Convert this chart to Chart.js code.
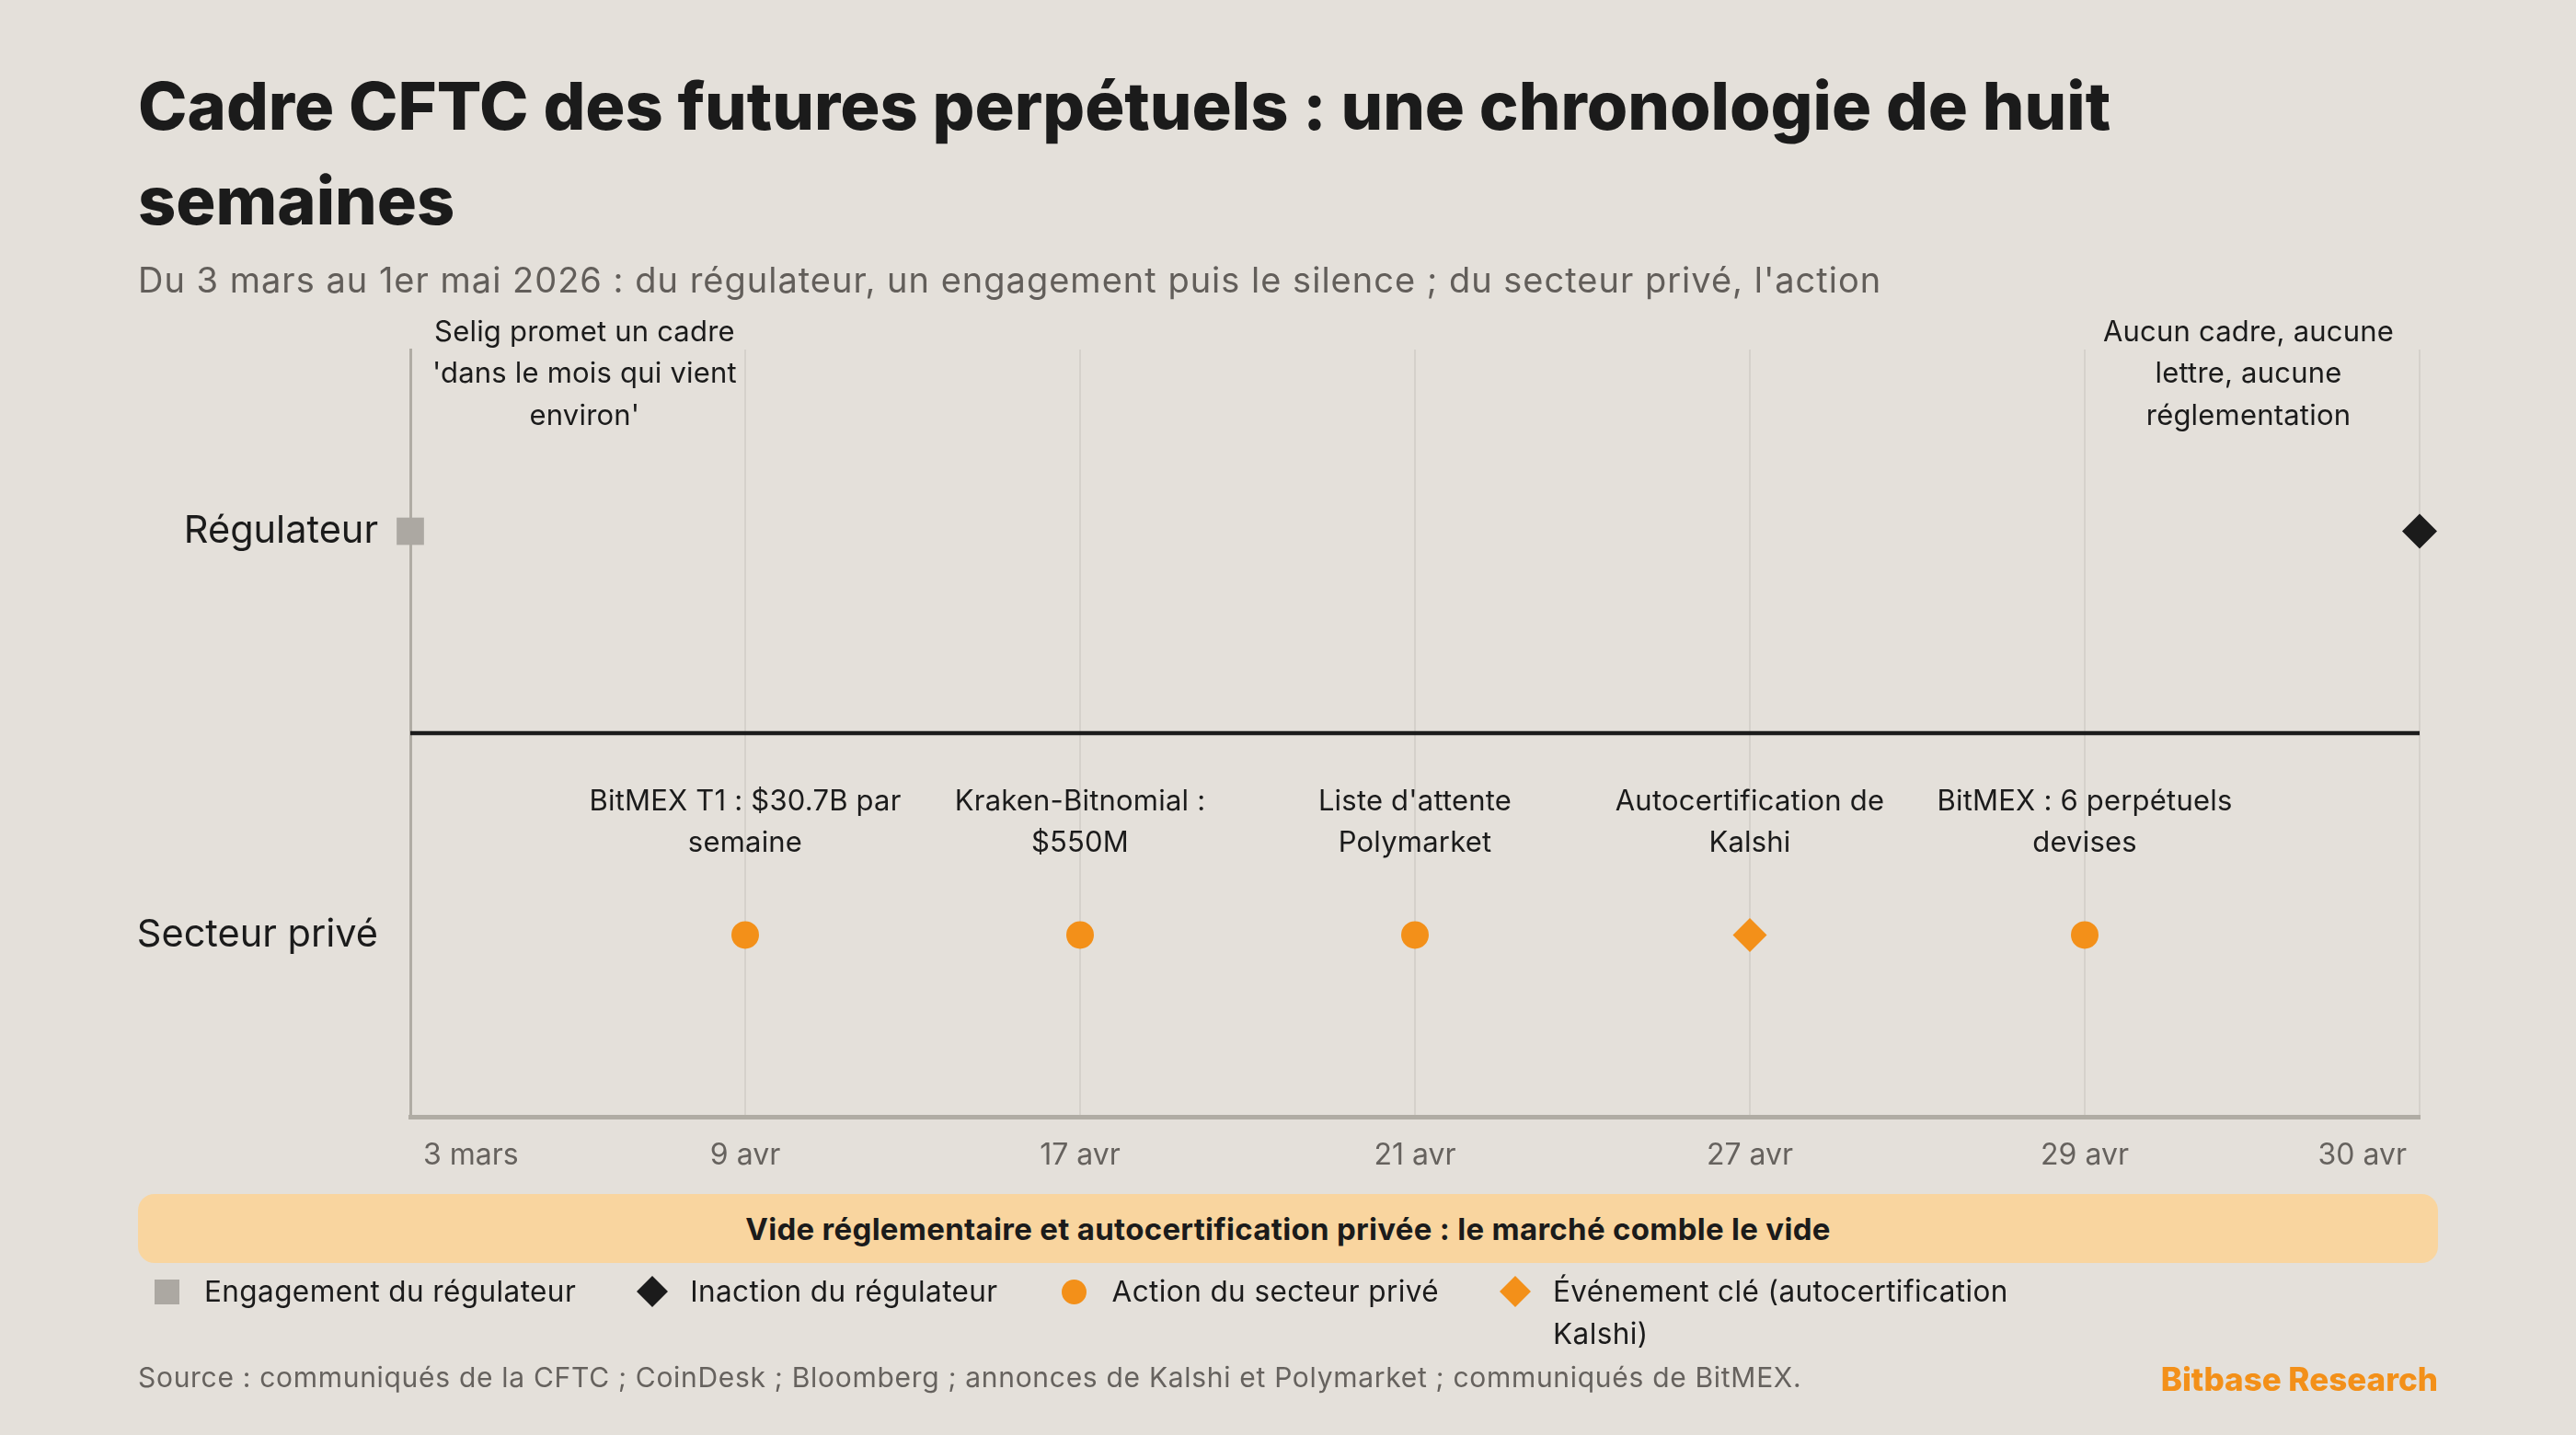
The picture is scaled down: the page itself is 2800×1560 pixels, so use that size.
<!DOCTYPE html>
<html lang="fr">
<head>
<meta charset="utf-8">
<title>Cadre CFTC des futures perpétuels</title>
<script src="https://cdn.jsdelivr.net/npm/chart.js@4.4.1/dist/chart.umd.min.js"></script>
<style>
  html, body { margin: 0; padding: 0; }
  body {
    width: 2800px; height: 1560px; overflow: hidden; position: relative;
    background: #e4e0da; font-family: Inter, "Noto Sans", sans-serif; color: #1b1b1b;
  }
  #wrap { position: absolute; left: 0; top: 0; width: 2800px; height: 1560px; }
  .txt { position: absolute; z-index: 2; }
  #title { left: 150px; top: 63px; width: 2450px; font-size: 72px; font-weight: 800; line-height: 103px; letter-spacing: 0; }
  #subtitle { left: 150px; top: 282px; font-size: 38px; line-height: 44px; letter-spacing: 1px; color: #625e5a; }
  #banner {
    left: 150px; top: 1298px; width: 2500px; height: 75px; border-radius: 18px;
    background: #f9d59f; display: flex; align-items: center; justify-content: center;
    font-size: 33px; font-weight: 700; letter-spacing: 0.3px; color: #1b1b1b;
  }
  #legend { left: 164px; top: 1381px; display: flex; align-items: flex-start; gap: 66px; font-size: 31.5px; line-height: 46px; letter-spacing: 0.4px; }
  .item { display: flex; align-items: flex-start; }
  .mk { width: 34px; height: 46px; margin-right: 24px; position: relative; flex: none; }
  .mk i { position: absolute; left: 50%; top: 50%; display: block; }
  .sq i { width: 27px; height: 27px; margin: -13.5px 0 0 -13.5px; background: #aca8a2; }
  .dk i { width: 24px; height: 24px; margin: -12px 0 0 -12px; background: #1b1b1b; transform: rotate(45deg); }
  .ci i { width: 27px; height: 27px; margin: -13.5px 0 0 -13.5px; background: #f39019; border-radius: 50%; }
  .do i { width: 24px; height: 24px; margin: -12px 0 0 -12px; background: #f39019; transform: rotate(45deg); }
  .lab { max-width: 500px; }
  #source { left: 150px; top: 1474px; font-size: 30px; line-height: 46px; letter-spacing: 0.7px; color: #66625e; }
  #brand { right: 150px; top: 1476px; font-size: 35px; line-height: 46px; font-weight: 800; color: #f39019; }
</style>
</head>
<body>
<div class="txt" id="title">Cadre CFTC des futures perpétuels : une chronologie de huit semaines</div>
<div class="txt" id="subtitle">Du 3 mars au 1er mai 2026 : du régulateur, un engagement puis le silence ; du secteur privé, l'action</div>
<div id="wrap"><canvas id="timeline"></canvas></div>
<div class="txt" id="banner">Vide réglementaire et autocertification privée : le marché comble le vide</div>
<div class="txt" id="legend"></div>
<div class="txt" id="source">Source : communiqués de la CFTC ; CoinDesk ; Bloomberg ; annonces de Kalshi et Polymarket ; communiqués de BitMEX.</div>
<div class="txt" id="brand">Bitbase Research</div>
<script>
// axis categories
const dates = ['3 mars', '9 avr', '17 avr', '21 avr', '27 avr', '29 avr', '30 avr'];
const rows = ['Secteur privé', 'Régulateur'];

// one entry per event on the timeline
const eventDate = ['3 mars', '9 avr', '17 avr', '21 avr', '27 avr', '29 avr', '30 avr'];
const eventRow = ['Régulateur', 'Secteur privé', 'Secteur privé', 'Secteur privé', 'Secteur privé', 'Secteur privé', 'Régulateur'];
const eventKind = [0, 2, 2, 2, 3, 2, 1];
const eventText = [
  "Selig promet un cadre\n'dans le mois qui vient\nenviron'",
  'BitMEX T1 : $30.7B par\nsemaine',
  'Kraken-Bitnomial :\n$550M',
  "Liste d'attente\nPolymarket",
  'Autocertification de\nKalshi',
  'BitMEX : 6 perpétuels\ndevises',
  'Aucun cadre, aucune\nlettre, aucune\nréglementation'
];

const kindNames = ['Engagement du régulateur', 'Inaction du régulateur', 'Action du secteur privé', 'Événement clé (autocertification Kalshi)'];
const kindStyle = [
  { pointStyle: 'rect', color: '#aca8a2', radius: 21, css: 'sq' },
  { pointStyle: 'rectRot', color: '#1b1b1b', radius: 19, css: 'dk' },
  { pointStyle: 'circle', color: '#f39019', radius: 15, css: 'ci' },
  { pointStyle: 'rectRot', color: '#f39019', radius: 18.5, css: 'do' }
];

const datasets = kindNames.map((name, k) => ({
  label: name,
  data: eventDate
    .map((d, i) => ({ x: d, y: rows.indexOf(eventRow[i]), kind: eventKind[i] }))
    .filter(p => p.kind === k),
  showLine: false,
  pointStyle: kindStyle[k].pointStyle,
  pointRadius: kindStyle[k].radius,
  pointHoverRadius: kindStyle[k].radius,
  backgroundColor: kindStyle[k].color,
  borderColor: kindStyle[k].color,
  borderWidth: 0,
  clip: false
}));

// html legend
const legendEl = document.getElementById('legend');
kindNames.forEach((name, k) => {
  const it = document.createElement('div');
  it.className = 'item';
  it.innerHTML = '<span class="mk ' + kindStyle[k].css + '"><i></i></span><span class="lab"></span>';
  it.querySelector('.lab').textContent = name;
  legendEl.appendChild(it);
});

// nudge the first and last date labels a little inside the plot
const edgeTicks = {
  id: 'edgeTicks',
  beforeDraw(chart) {
    const items = chart.scales.x.getLabelItems(chart.chartArea);
    if (items.length > 1) {
      items[0].options.translation[0] += 14;
      items[items.length - 1].options.translation[0] -= 14;
    }
  }
};

const dividerLine = {
  id: 'dividerLine',
  beforeDatasetsDraw(chart) {
    const { ctx, chartArea, scales } = chart;
    const y = scales.y.getPixelForValue(0.5);
    ctx.save();
    ctx.strokeStyle = '#1b1b1b';
    ctx.lineWidth = 4.5;
    ctx.beginPath();
    ctx.moveTo(chartArea.left, y);
    ctx.lineTo(chartArea.right, y);
    ctx.stroke();
    ctx.restore();
  }
};

const eventLabels = {
  id: 'eventLabels',
  afterDatasetsDraw(chart) {
    const { ctx, chartArea, scales } = chart;
    ctx.save();
    ctx.font = '31px Inter, "Noto Sans", sans-serif';
    ctx.letterSpacing = '0.2px';
    ctx.fillStyle = '#1b1b1b';
    ctx.textAlign = 'center';
    ctx.textBaseline = 'middle';
    const lh = 45.5;
    eventText.forEach((txt, i) => {
      const lines = txt.split('\n');
      const row = rows.indexOf(eventRow[i]);
      const px = scales.x.getPixelForValue(dates.indexOf(eventDate[i]));
      const py = scales.y.getPixelForValue(row);
      const half = Math.max(...lines.map(l => ctx.measureText(l).width)) / 2;
      const cx = Math.min(Math.max(px, chartArea.left + half + 24), chartArea.right - half - 28);
      const top = py - (row === 1 ? 216 : 145);
      lines.forEach((l, j) => ctx.fillText(l, cx, top + j * lh));
    });
    ctx.restore();
  }
};

new Chart(document.getElementById('timeline'), {
  type: 'line',
  data: { labels: dates, datasets },
  options: {
    responsive: true,
    maintainAspectRatio: false,
    animation: false,
    layout: { padding: { top: 380, right: 170, bottom: 0, left: 0 } },
    plugins: { legend: { display: false }, tooltip: { enabled: false } },
    scales: {
      x: {
        type: 'category',
        offset: false,
        afterFit: s => { s.height = 346; },
        grid: { color: '#d5d1cb', lineWidth: 2, drawTicks: false, offset: false },
        border: { display: true, color: '#b0aca4', width: 5 },
        ticks: {
          align: 'inner',
          padding: 23,
          color: '#66625e',
          font: { family: 'Inter, "Noto Sans", sans-serif', size: 32 },
          maxRotation: 0,
          autoSkip: false
        }
      },
      y: {
        type: 'linear',
        min: -0.45,
        max: 1.45,
        afterFit: s => { s.width = 446; },
        afterBuildTicks: s => { s.ticks = rows.map((r, i) => ({ value: i })); },
        grid: { display: false, drawTicks: false },
        border: { display: true, color: '#b0aca4', width: 3 },
        ticks: {
          padding: 35,
          color: '#1b1b1b',
          font: { family: 'Inter, "Noto Sans", sans-serif', size: 41.5 },
          callback: v => rows[v]
        }
      }
    }
  },
  plugins: [edgeTicks, dividerLine, eventLabels]
});
</script>
</body>
</html>
